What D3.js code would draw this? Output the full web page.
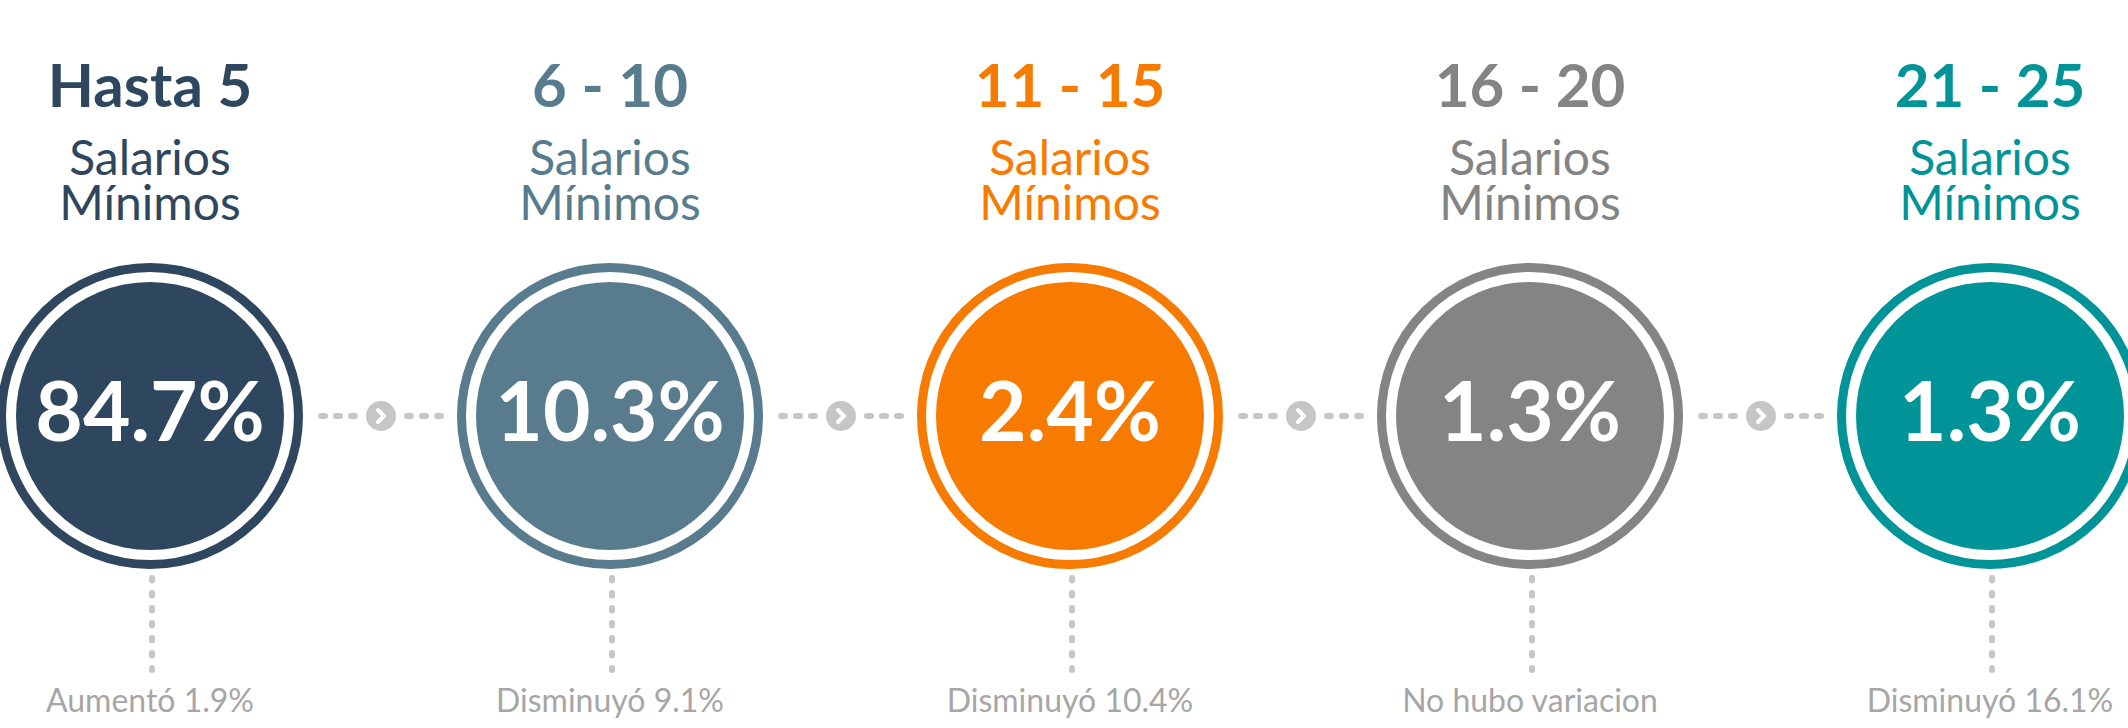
<!DOCTYPE html>
<html>
<head>
<meta charset="utf-8">
<script src="https://cdn.jsdelivr.net/npm/d3@7"></script>
<style>
  html, body { margin: 0; padding: 0; background: #fff; overflow: hidden; }
  svg { display: block; font-family: Lato, "Open Sans", sans-serif; }
</style>
</head>
<body>
<script>
// Datos del gráfico
const categorias = ['Hasta 5', '6 - 10', '11 - 15', '16 - 20', '21 - 25'];
const subtitulo = ['Salarios', 'Mínimos'];
const porcentajes = [84.7, 10.3, 2.4, 1.3, 1.3];
const variaciones = ['Aumentó 1.9%', 'Disminuyó 9.1%', 'Disminuyó 10.4%', 'No hubo variacion', 'Disminuyó 16.1%'];
const notaVariacion = 'vs. año 2017';
const colores = ['#2f475e', '#587b8e', '#f77b00', '#848484', '#009499'];

const width = 2128, height = 728;
const gris = '#c6c6c6';

const svg = d3.select('body').append('svg')
  .attr('width', width)
  .attr('height', height);

// Escala horizontal para las columnas
const x = d3.scalePoint()
  .domain(categorias)
  .range([150, 1990]);

const cy = 416;      // centro vertical de los círculos
const rOuter = 153;  // radio exterior

const datos = categorias.map((c, i) => ({
  cat: c, valor: porcentajes[i], variacion: variaciones[i], color: colores[i]
}));

// Conectores entre círculos (línea punteada + flecha)
const conectores = svg.append('g').attr('class', 'conectores');
for (let i = 0; i < categorias.length - 1; i++) {
  const mx = (x(categorias[i]) + x(categorias[i + 1])) / 2 + 1;
  const g = conectores.append('g').attr('transform', `translate(${mx},${cy})`);
  [[-60, -23], [26, 63]].forEach(([a, b]) => {
    g.append('line')
      .attr('x1', a).attr('x2', b)
      .attr('y1', 0).attr('y2', 0)
      .attr('stroke', gris)
      .attr('stroke-width', 6)
      .attr('stroke-linecap', 'round')
      .attr('stroke-dasharray', '4 11');
  });
  g.append('circle').attr('r', 15).attr('fill', gris);
  g.append('path')
    .attr('d', 'M -3,-6 L 3,0 L -3,6')
    .attr('fill', 'none')
    .attr('stroke', '#fff')
    .attr('stroke-width', 4)
    .attr('stroke-linecap', 'round')
    .attr('stroke-linejoin', 'round');
}

const col = svg.selectAll('g.col')
  .data(datos)
  .enter().append('g')
  .attr('class', 'col')
  .attr('transform', d => `translate(${x(d.cat)},0)`);

// Título del rango
col.append('text')
  .attr('x', 0).attr('y', 107)
  .attr('text-anchor', 'middle')
  .attr('fill', d => d.color)
  .style('font-size', '60px')
  .style('font-weight', 700)
  .text(d => d.cat);

// Subtítulo "Salarios Mínimos"
subtitulo.forEach((s, j) => {
  col.append('text')
    .attr('x', 0).attr('y', 175 + j * 45)
    .attr('text-anchor', 'middle')
    .attr('fill', d => d.color)
    .style('font-size', '48px')
    .style('font-weight', 400)
    .text(s);
});

// Línea vertical punteada
col.append('line')
  .attr('x1', 2).attr('x2', 2)
  .attr('y1', cy + rOuter + 9).attr('y2', 670)
  .attr('stroke', gris)
  .attr('stroke-width', 6)
  .attr('stroke-linecap', 'round')
  .attr('stroke-dasharray', '2.5 12.5');

// Círculo doble
col.append('circle')
  .attr('cx', 0).attr('cy', cy)
  .attr('r', rOuter - 4.5)
  .attr('fill', '#fff')
  .attr('stroke', d => d.color)
  .attr('stroke-width', 9);

col.append('circle')
  .attr('cx', 0).attr('cy', cy)
  .attr('r', 134)
  .attr('fill', d => d.color);

// Valor porcentual
col.append('text')
  .attr('x', 0).attr('y', 441)
  .attr('text-anchor', 'middle')
  .attr('fill', '#fff')
  .style('font-size', '82px')
  .style('font-weight', 700)
  .text(d => d3.format('.1f')(d.valor) + '%');

// Variación
col.append('text')
  .attr('x', 0).attr('y', 712)
  .attr('text-anchor', 'middle')
  .attr('fill', '#a6a6a6')
  .style('font-size', '32px')
  .text(d => d.variacion);

col.append('text')
  .attr('x', 0).attr('y', 754)
  .attr('text-anchor', 'middle')
  .attr('fill', '#a6a6a6')
  .style('font-size', '32px')
  .text(notaVariacion);
</script>
</body>
</html>
